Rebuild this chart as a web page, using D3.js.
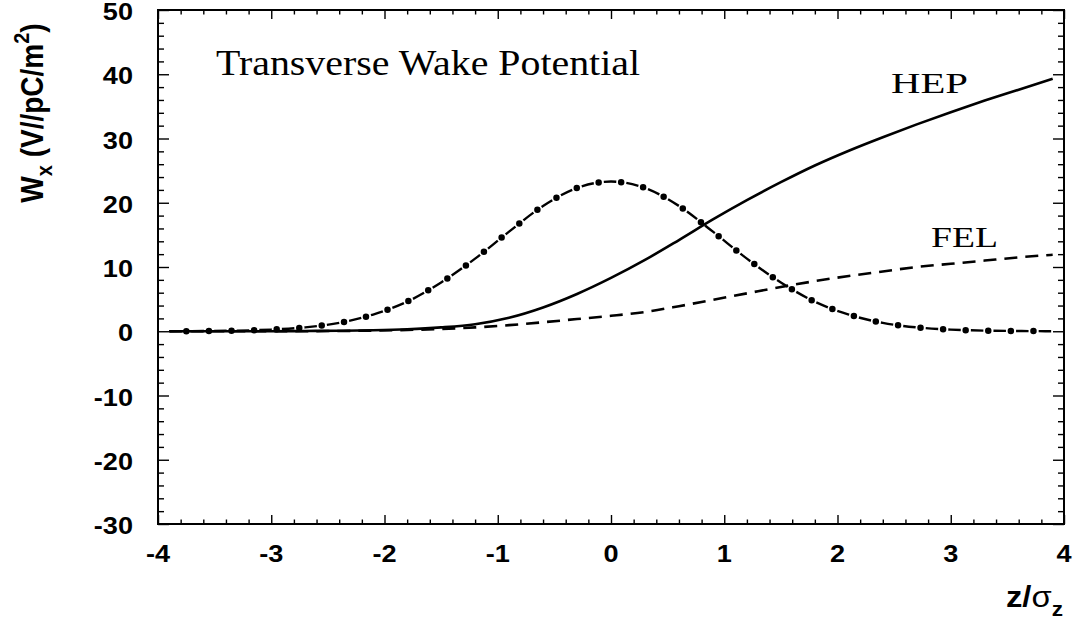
<!DOCTYPE html>
<html><head><meta charset="utf-8">
<script src="https://cdn.jsdelivr.net/npm/d3@7"></script>
<style>body{margin:0;background:#fff}svg{display:block}</style>
</head><body>
<svg id="c" width="1080" height="622"></svg>
<script>
// ---- data ----
const zValues     = [-3.9,-3.6,-3.3,-3.0,-2.7,-2.4,-2.1,-1.8,-1.5,-1.2,-0.9,-0.6,-0.3,0,0.3,0.6,0.9,1.2,1.5,1.8,2.1,2.4,2.7,3.0,3.3,3.6,3.9];
const hepValues   = [0.0,0.0,0.0,0.0,0.04,0.08,0.15,0.3,0.6,1.1,2.1,3.7,5.8,8.3,11.1,14.2,17.4,20.4,23.2,25.8,28.1,30.2,32.2,34.1,35.9,37.6,39.3];
const felValues   = [0.0,0.0,0.0,0.0,0.0,0.05,0.1,0.2,0.35,0.6,0.95,1.4,1.9,2.4,3.0,3.9,4.9,5.9,6.9,7.8,8.6,9.3,10.0,10.5,11.0,11.5,11.9];
const bunchValues = [0.0,0.04,0.1,0.26,0.6,1.3,2.6,4.6,7.6,11.3,15.5,19.5,22.3,23.3,22.3,19.5,15.5,11.3,7.6,4.6,2.6,1.3,0.6,0.26,0.1,0.04,0.0];
const xTickValues = [-4,-3,-2,-1,0,1,2,3,4];
const yTickValues = [50,40,30,20,10,0,-10,-20,-30];
const titleText = "Transverse Wake Potential";
const curveLabels = ["HEP","FEL"];

// ---- layout ----
const svg = d3.select("#c");
const L = 158, R = 1064, T = 10, B = 524;
const x = d3.scaleLinear().domain([-4,4]).range([L,R]);
const y = d3.scaleLinear().domain([-30,50]).range([B,T]);
const SX = 1.13; // horizontal stretch of text in the reference

const xMinor = d3.range(-40,41,2).map(v=>v/10).filter(v=>!xTickValues.includes(v));
const yMinor = d3.range(-30,51,2).filter(v=>v%10!==0);

function styleAxis(g){
  g.select(".domain").remove();
  g.selectAll(".tick line").attr("stroke","#000").attr("stroke-width",1.4);
  g.selectAll("text").remove();
}
// bottom
svg.append("g").attr("transform",`translate(0,${B})`).call(d3.axisBottom(x).tickValues(xTickValues).tickSize(-9).tickSizeOuter(0)).call(styleAxis);
svg.append("g").attr("transform",`translate(0,${B})`).call(d3.axisBottom(x).tickValues(xMinor).tickSize(-4.5).tickSizeOuter(0)).call(styleAxis);
// top
svg.append("g").attr("transform",`translate(0,${T})`).call(d3.axisTop(x).tickValues(xTickValues).tickSize(-9).tickSizeOuter(0)).call(styleAxis);
svg.append("g").attr("transform",`translate(0,${T})`).call(d3.axisTop(x).tickValues(xMinor).tickSize(-4.5).tickSizeOuter(0)).call(styleAxis);
// left
svg.append("g").attr("transform",`translate(${L},0)`).call(d3.axisLeft(y).tickValues(yTickValues).tickSize(-11).tickSizeOuter(0)).call(styleAxis);
svg.append("g").attr("transform",`translate(${L},0)`).call(d3.axisLeft(y).tickValues(yMinor).tickSize(-6).tickSizeOuter(0)).call(styleAxis);
// right
svg.append("g").attr("transform",`translate(${R},0)`).call(d3.axisRight(y).tickValues(yTickValues).tickSize(-11).tickSizeOuter(0)).call(styleAxis);
svg.append("g").attr("transform",`translate(${R},0)`).call(d3.axisRight(y).tickValues(yMinor).tickSize(-6).tickSizeOuter(0)).call(styleAxis);

// frame
svg.append("rect").attr("x",L).attr("y",T).attr("width",R-L).attr("height",B-T)
  .attr("fill","none").attr("stroke","#000").attr("stroke-width",2);

// tick labels
const tickFont = "'Liberation Sans', Arial, sans-serif";
svg.append("g").selectAll("g").data(yTickValues).join("g")
  .attr("transform",d=>`translate(133,${y(d)+1.5}) scale(${SX},1)`)
  .append("text").attr("text-anchor","end").attr("dy","0.36em")
  .attr("font-family",tickFont).attr("font-weight","bold").attr("font-size",24)
  .text(d=>d);
svg.append("g").selectAll("g").data(xTickValues).join("g")
  .attr("transform",d=>`translate(${x(d)},562) scale(${SX},1)`)
  .append("text").attr("text-anchor","middle")
  .attr("font-family",tickFont).attr("font-weight","bold").attr("font-size",24)
  .text(d=>d);

// axis titles
const xt = svg.append("g").attr("transform",`translate(1063,607) scale(${SX},1)`)
  .append("text").attr("text-anchor","end").attr("font-family",tickFont).attr("font-size",29);
xt.append("tspan").attr("font-weight","bold").text("z/");
xt.append("tspan").text("σ");
xt.append("tspan").attr("font-weight","bold").attr("font-size",20).attr("dy",9).text("z");

const yt = svg.append("g").attr("transform",`translate(43,113) scale(${SX},1) rotate(-90)`)
  .append("text").attr("text-anchor","middle").attr("font-family",tickFont).attr("font-weight","bold").attr("font-size",28);
yt.append("tspan").text("W");
yt.append("tspan").attr("font-size",20).attr("dy",8).text("x");
yt.append("tspan").attr("dy",-8).text(" (V//pC/m");
yt.append("tspan").attr("font-size",20).attr("dy",-12).text("2");
yt.append("tspan").attr("dy",12).text(")");

// curves
const line = d3.line().x((d,i)=>x(zValues[i])).y(d=>y(d)).curve(d3.curveMonotoneX);
const g = svg.append("g").attr("fill","none").attr("stroke","#000");
g.append("path").datum(hepValues).attr("d",line).attr("stroke-width",2.6);
g.append("path").datum(felValues).attr("d",line).attr("stroke-width",2.6).attr("stroke-dasharray","13 8");
g.append("path").datum(bunchValues).attr("d",line).attr("stroke-width",2.4)
  .attr("stroke-dasharray","12.5 10.1").attr("stroke-dashoffset",23.0);
g.append("path").datum(bunchValues).attr("d",line).attr("stroke-width",6.5).attr("stroke-linecap","round")
  .attr("stroke-dasharray","0 22.6").attr("stroke-dashoffset",5.6);

// text labels
const serif = "'Liberation Serif', 'Times New Roman', serif";
svg.append("text").attr("x",216).attr("y",75).attr("font-family",serif).attr("font-size",35)
  .attr("textLength",424).attr("lengthAdjust","spacingAndGlyphs").text(titleText);
svg.append("text").attr("x",891).attr("y",93).attr("font-family",serif).attr("font-size",30)
  .attr("textLength",77).attr("lengthAdjust","spacingAndGlyphs").text(curveLabels[0]);
svg.append("text").attr("x",931).attr("y",247).attr("font-family",serif).attr("font-size",30)
  .attr("textLength",67).attr("lengthAdjust","spacingAndGlyphs").text(curveLabels[1]);
</script>
</body></html>
